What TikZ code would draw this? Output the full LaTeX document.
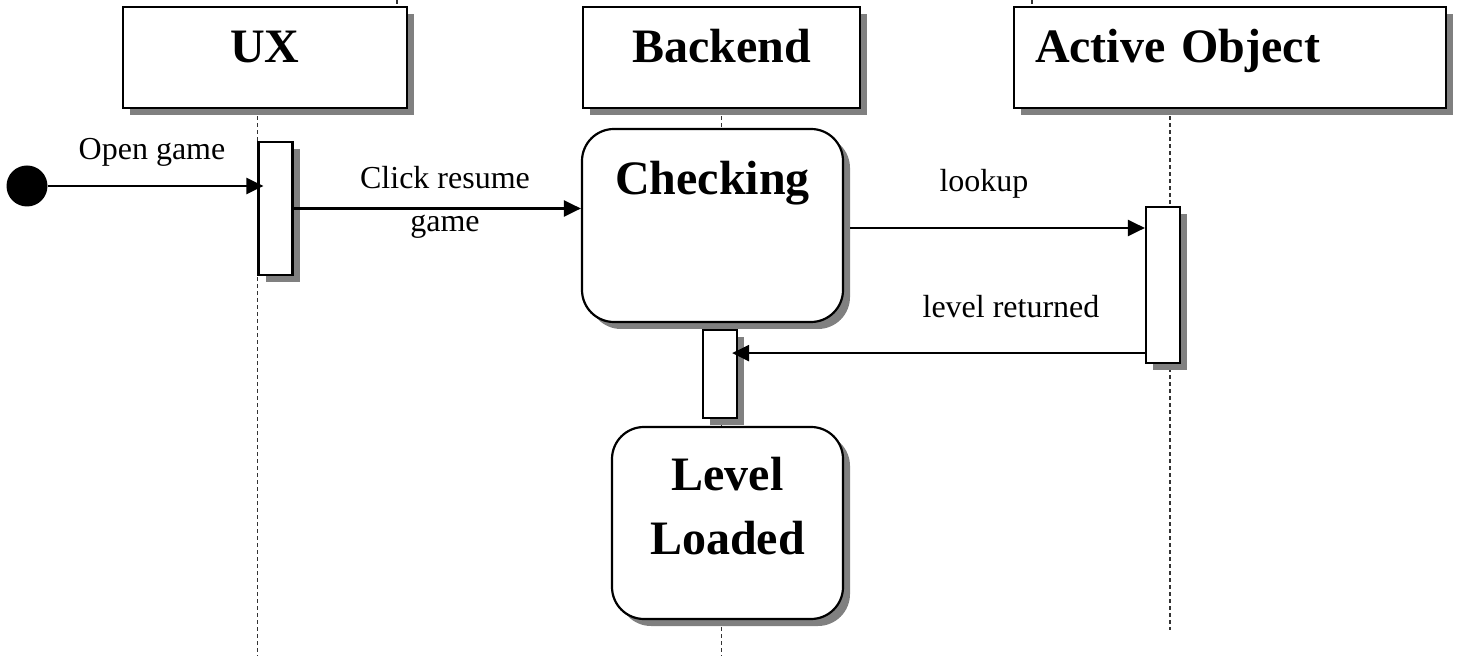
\documentclass[tikz,border=0pt]{standalone}
\usepackage{fontspec}
\setmainfont{Liberation Serif}
\usetikzlibrary{arrows.meta,shadows,backgrounds,calc}
\begin{document}
\begin{tikzpicture}[x=0.5pt,y=-0.5pt,
  shade/.style={drop shadow={shadow xshift=3.5pt,shadow yshift=-3.5pt,fill=black!50,opacity=1}},
  hdr/.style={draw,line width=1.1pt,fill=white,shade,inner sep=0pt,
    font=\fontsize{24}{28}\selectfont\bfseries,text height=28pt,text depth=22.5pt},
  state/.style={draw,line width=1.1pt,fill=white,shade,rounded corners=16pt,inner sep=0pt,
    font=\fontsize{24}{32}\selectfont\bfseries},
  act/.style={draw,line width=1.1pt,fill=white,shade,inner sep=0pt,minimum width=17pt},
  msg/.style={line width=1.2pt,-{Triangle[length=8.5pt,width=8pt]}},
  life/.style={line width=0.6pt,black!80,dash pattern=on 2pt off 1.5pt},
  lbl/.style={font=\fontsize{16}{19}\selectfont,anchor=base,inner sep=0pt}]
\useasboundingbox (0,0) rectangle (1460,656);

% object headers
\node[hdr,minimum width=142pt] (ux) at (265,57.5) {UX};
\node[hdr,minimum width=138.5pt] (be) at (721.5,57.5) {Backend};
\node[hdr,inner xsep=10.5pt,text width=195pt,align=left] (ao) at (1230,57.5) {Active Object};

% states
\node[state,minimum width=130.5pt,text height=33pt,text depth=63.5pt] (chk) at (712.5,225.5) {Checking};
\node[state,minimum width=115.5pt,text height=32pt,text depth=64pt] (ll) at (727.5,523)
  {\begin{tabular}[t]{@{}c@{}}Level\\Loaded\end{tabular}};

% activation bars
\node[act,minimum height=66.5pt] (uxact) at (275.5,208.5) {};
\node[act,minimum height=44pt] (beact) at (720,374) {};
\node[act,minimum height=78pt] (aoact) at (1163,285) {};

% initial state
\node[circle,fill=black,minimum size=20.5pt,inner sep=0pt] (init) at (27,186) {};

% helper points
\coordinate (bot) at (0,656);
\coordinate (aoline) at (1170,630);
\coordinate (tickA) at (397,0);
\coordinate (tickB) at (1032,0);
\coordinate (lk) at ($(chk.east)+(0,2.5)$);
\coordinate (ret) at ($(aoact.south west)+(0,-11)$);

% lifelines
\begin{pgfonlayer}{background}
\draw[life] (ux.south -| uxact.west) -- (uxact.west |- bot);
\draw[life] (be.south) -- (be.south |- bot);
\draw[life] (ao.south -| aoline) -- (aoline);
\draw[life] (tickA) -- (tickA |- ux.north);
\draw[life] (tickB) -- (tickB |- ao.north);
\end{pgfonlayer}

% messages
\draw[msg,shorten >=-3pt] (init) -- (init -| uxact.west);
\draw[msg] (uxact.east) -- (uxact.east -| chk.west);
\draw[msg,shorten <=3pt] (lk) -- (lk -| aoact.west);
\draw[msg,shorten >=-3pt] (ret) -- (ret -| beact.east);

% message labels
\node[lbl] (lopen) at (152,160) {Open game};
\node[lbl] (lclick) at (445,189) {Click resume};
\node[lbl] (lgame) at (445,232) {game};
\node[lbl] (llook) at (984,192) {lookup};
\node[lbl] (lret) at (1011,318) {level returned};
\end{tikzpicture}
\end{document}
